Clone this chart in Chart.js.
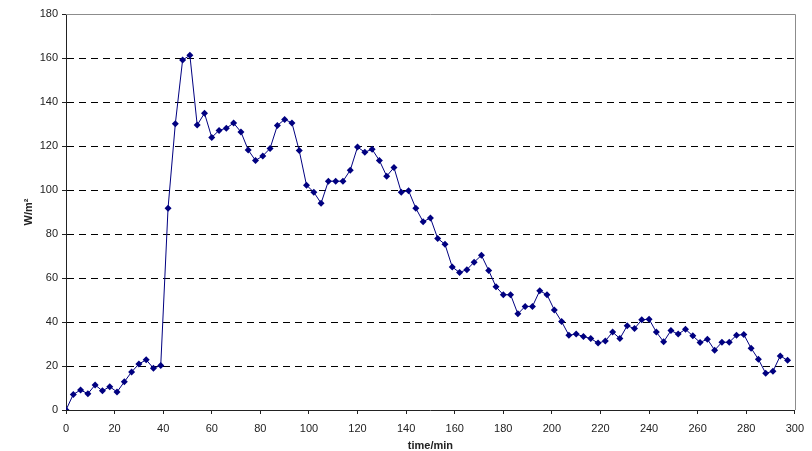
<!DOCTYPE html>
<html>
<head>
<meta charset="utf-8">
<script src="https://cdn.jsdelivr.net/npm/chart.js@4/dist/chart.umd.min.js"></script>
<style>
  html, body { margin: 0; padding: 0; background: #fff; }
  #wrap { width: 812px; height: 451px; position: relative; }
</style>
</head>
<body>
<div id="wrap"><canvas id="chart"></canvas></div>
<script>
// one reading every 3 minutes, 0..297
const times = [];
for (let t = 0; t <= 297; t += 3) times.push(t);

const irradiance = [
  0, 7.1, 9.1, 7.4, 11.4, 8.7, 10.6, 8.2, 12.8, 17.3,
  20.9, 22.8, 19.0, 20.2, 91.7, 130.1, 159.1, 161.2, 129.5, 134.9,
  123.9, 127.1, 128.1, 130.4, 126.4, 118.2, 113.4, 115.5, 118.9, 129.3,
  132.1, 130.5, 117.9, 102.2, 99.0, 94.0, 104.0, 104.0, 104.0, 109.0,
  119.5, 117.2, 118.5, 113.4, 106.3, 110.2, 99.0, 99.7, 91.7, 85.6,
  87.3, 78.0, 75.3, 65.0, 62.5, 63.8, 67.2, 70.3, 63.4, 56.0,
  52.4, 52.4, 43.7, 47.1, 47.1, 54.2, 52.4, 45.5, 40.2, 34.0,
  34.5, 33.4, 32.5, 30.4, 31.4, 35.4, 32.5, 38.3, 37.0, 41.0,
  41.3, 35.4, 31.0, 36.1, 34.5, 36.7, 33.7, 30.7, 32.2, 27.2,
  30.8, 30.8, 34.0, 34.3, 28.1, 23.1, 16.7, 17.6, 24.6, 22.6
];

const xTicks = [0, 20, 40, 60, 80, 100, 120, 140, 160, 180, 200, 220, 240, 260, 280, 300];
const yTicks = [0, 20, 40, 60, 80, 100, 120, 140, 160, 180];

const points = times.map((t, i) => ({ x: t, y: irradiance[i] }));

// gray frame on top and right of the plot area
const framePlugin = {
  id: "frame",
  beforeDatasetsDraw(chart) {
    const { ctx, chartArea: a } = chart;
    ctx.save();
    ctx.strokeStyle = "#8c8c8c";
    ctx.lineWidth = 1;
    ctx.beginPath();
    ctx.moveTo(a.left, Math.round(a.top) + 0.5);
    ctx.lineTo(Math.round(a.right) + 0.5, Math.round(a.top) + 0.5);
    ctx.lineTo(Math.round(a.right) + 0.5, a.bottom);
    ctx.stroke();
    ctx.restore();
  }
};

const font = { family: "'Liberation Sans', Arial, sans-serif", size: 11 };

new Chart(document.getElementById("chart"), {
  type: "line",
  data: {
    datasets: [{
      data: points,
      borderColor: "#000080",
      backgroundColor: "#000080",
      borderWidth: 1,
      pointStyle: "rectRot",
      pointRadius: 3.5,
      pointBorderWidth: 0,
      pointHoverRadius: 3.5,
      tension: 0
    }]
  },
  options: {
    responsive: true,
    maintainAspectRatio: false,
    animation: false,
    events: [],
    layout: { padding: { left: 0, right: 17, top: 14, bottom: 0 } },
    plugins: { legend: { display: false }, tooltip: { enabled: false } },
    scales: {
      x: {
        type: "linear",
        min: 0,
        max: 300,
        afterBuildTicks: s => { s.ticks = xTicks.map(v => ({ value: v })); },
        afterFit: s => { s.height = 41; },
        grid: { drawOnChartArea: false, drawTicks: true, tickLength: 4, tickColor: "#222" },
        border: { color: "#222", width: 1 },
        ticks: { color: "#222", font, padding: 8, maxRotation: 0 },
        title: { display: true, text: "time/min", color: "#222", font: { ...font, weight: "bold", lineHeight: 0.6 }, padding: { top: 0, bottom: 2 } }
      },
      y: {
        min: 0,
        max: 180,
        afterBuildTicks: s => { s.ticks = yTicks.map(v => ({ value: v })); },
        afterFit: s => { s.width = 66; },
        grid: {
          color: ctx => (ctx.tick && (ctx.tick.value === 0 || ctx.tick.value === 180)) ? "rgba(0,0,0,0)" : "#000",
          lineWidth: 1,
          tickLength: 4,
          tickColor: "#222",
          tickBorderDash: []
        },
        border: { color: "#222", width: 1, dash: [7, 5] },
        ticks: { color: "#222", font, padding: 4 },
        title: { display: true, text: "W/m²", color: "#222", font: { ...font, weight: "bold" }, padding: { top: 22, bottom: 0 } }
      }
    }
  },
  plugins: [framePlugin]
});
</script>
</body>
</html>
